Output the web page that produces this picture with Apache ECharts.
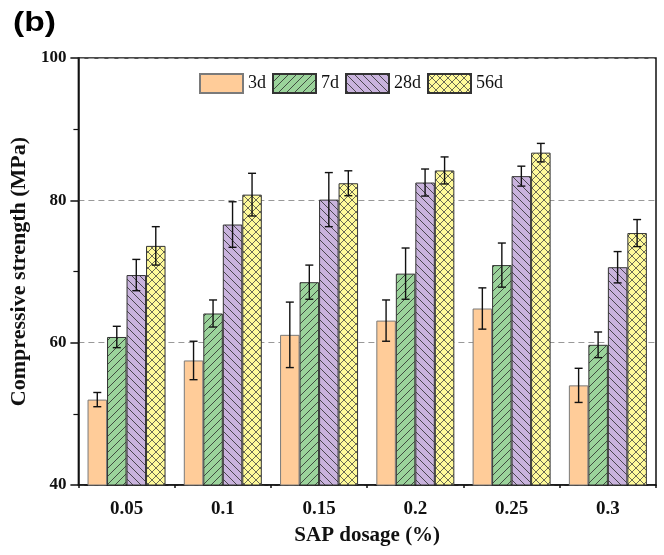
<!DOCTYPE html>
<html>
<head>
<meta charset="utf-8">
<script src="https://cdn.jsdelivr.net/npm/echarts@6/dist/echarts.min.js"></script>
<style>html,body{margin:0;padding:0;background:#fff;}#c{width:664px;height:555px;}</style>
</head>
<body>
<div id="c"></div>
<script>
const categories = ['0.05', '0.1', '0.15', '0.2', '0.25', '0.3'];
const seriesNames = ['3d', '7d', '28d', '56d'];
const values3d  = [52.0, 57.5, 61.1, 63.1, 64.8, 54.0];
const values7d  = [60.8, 64.1, 68.5, 69.7, 70.9, 59.7];
const values28d = [69.5, 76.6, 80.1, 82.5, 83.4, 70.6];
const values56d = [73.6, 80.8, 82.4, 84.2, 86.7, 75.4];
const err3d  = [1.0, 2.7, 4.6, 2.9, 2.9, 2.4];
const err7d  = [1.5, 1.9, 2.4, 3.6, 3.1, 1.8];
const err28d = [2.2, 3.2, 3.8, 1.9, 1.4, 2.2];
const err56d = [2.7, 3.0, 1.75, 1.9, 1.3, 1.9];
const yTicks = [40, 60, 80, 100];

function makePattern(bg, type, lineColor) {
  const s = 8;
  const c = document.createElement('canvas');
  c.width = s; c.height = s;
  const g = c.getContext('2d');
  g.fillStyle = bg; g.fillRect(0, 0, s, s);
  if (type === 'none') return c;
  g.strokeStyle = lineColor; g.lineWidth = 0.8;
  function fwd() {
    g.beginPath();
    g.moveTo(0, s); g.lineTo(s, 0);
    g.moveTo(-2, 2); g.lineTo(2, -2);
    g.moveTo(s - 2, s + 2); g.lineTo(s + 2, s - 2);
    g.stroke();
  }
  function back() {
    g.beginPath();
    g.moveTo(0, 0); g.lineTo(s, s);
    g.moveTo(-2, s - 2); g.lineTo(2, s + 2);
    g.moveTo(s - 2, -2); g.lineTo(s + 2, 2);
    g.stroke();
  }
  if (type === 'fwd' || type === 'cross') fwd();
  if (type === 'back' || type === 'cross') back();
  return c;
}

const fills = [
  {color: '#FFCC99', border: '#7a7a7a'},
  {color: {image: makePattern('#9BD39B', 'fwd', '#2a2a2a'), repeat: 'repeat'}, border: '#333'},
  {color: {image: makePattern('#C9B3DD', 'back', '#2a2a2a'), repeat: 'repeat'}, border: '#333'},
  {color: {image: makePattern('#FFFA9A', 'cross', '#444'), repeat: 'repeat'}, border: '#333'}
];
const allValues = [values3d, values7d, values28d, values56d];
const allErrs = [err3d, err7d, err28d, err56d];
const BW = 19.5;

const series = [];
seriesNames.forEach((name, k) => {
  series.push({
    name: name, type: 'bar', barWidth: BW, barGap: '0%',
    data: allValues[k],
    itemStyle: {color: fills[k].color, borderColor: fills[k].border, borderWidth: 1},
    emphasis: {disabled: true},
    z: 2
  });
});
seriesNames.forEach((name, k) => {
  series.push({
    type: 'custom', name: name + '_err', z: 5,
    data: allValues[k].map((v, i) => [i, v, allErrs[k][i]]),
    encode: {x: 0, y: 1},
    renderItem: function (params, api) {
      const i = api.value(0), v = api.value(1), e = api.value(2);
      const top = api.coord([i, v + e]);
      const bot = api.coord([i, v - e]);
      const x = top[0] + (k - 1.5) * BW;
      const cw = 4;
      const st = {stroke: '#111', lineWidth: 1.4};
      return {type: 'group', children: [
        {type: 'line', shape: {x1: x, y1: top[1], x2: x, y2: bot[1]}, style: st},
        {type: 'line', shape: {x1: x - cw, y1: top[1], x2: x + cw, y2: top[1]}, style: st},
        {type: 'line', shape: {x1: x - cw, y1: bot[1], x2: x + cw, y2: bot[1]}, style: st}
      ]};
    }
  });
});

const serif = '"Liberation Serif", "Times New Roman", serif';
const chart = echarts.init(document.getElementById('c'), null, {renderer: 'canvas'});
chart.setOption({
  animation: false,
  backgroundColor: '#fff',
  grid: {left: 78, right: 8, top: 58, bottom: 70, show: true, borderColor: '#111', borderWidth: 1.5, backgroundColor: 'transparent'},
  legend: {
    data: seriesNames, left: 194, top: 68, itemWidth: 43, itemHeight: 19, itemGap: 6,
    icon: 'rect',
    textStyle: {fontFamily: serif, fontSize: 18, color: '#111'}
  },
  graphic: [{
    type: 'text', x: 13, y: 9, scaleX: 1.2,
    style: {text: '(b)', font: 'bold 28px "Liberation Sans", Arial, sans-serif', fill: '#000', verticalAlign: 'top', align: 'left'}
  }],
  xAxis: [{
    type: 'category', data: categories,
    name: 'SAP dosage (%)', nameLocation: 'middle', nameGap: 40,
    nameTextStyle: {fontFamily: serif, fontSize: 21, fontWeight: 'bold', color: '#111'},
    axisLine: {lineStyle: {color: '#111', width: 1.5}},
    axisTick: {alignWithLabel: true, length: 7, lineStyle: {color: '#111', width: 1.5}},
    axisLabel: {fontFamily: serif, fontSize: 19, fontWeight: 'bold', color: '#111', margin: 15},
    splitLine: {show: false}
  }, {
    type: 'category', data: categories, position: 'bottom',
    axisLine: {show: false},
    axisTick: {show: true, length: 3, lineStyle: {color: '#111', width: 1.5}},
    axisLabel: {show: false}, splitLine: {show: false}
  }],
  yAxis: {
    type: 'value', min: 40, max: 100, interval: 20,
    name: 'Compressive strength (MPa)', nameLocation: 'middle', nameGap: 42,
    nameTextStyle: {fontFamily: serif, fontSize: 22, fontWeight: 'bold', color: '#111'},
    axisLine: {show: true, lineStyle: {color: '#111', width: 1.5}},
    axisTick: {show: true, length: 8, lineStyle: {color: '#111', width: 1.5}},
    minorTick: {show: true, splitNumber: 2, length: 5, lineStyle: {color: '#111', width: 1.2}},
    axisLabel: {fontFamily: serif, fontSize: 17, fontWeight: 'bold', color: '#111', margin: 12,
      formatter: v => yTicks.indexOf(v) >= 0 ? String(v) : ''},
    splitLine: {show: true, lineStyle: {color: '#999', type: [6, 4], width: 1.2}}
  },
  series: series
});
</script>
</body>
</html>
